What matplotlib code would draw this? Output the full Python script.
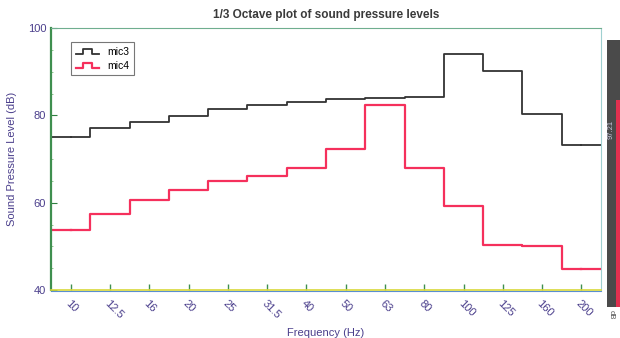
import matplotlib
matplotlib.use('Agg')
import matplotlib.pyplot as plt
from matplotlib.lines import Line2D
from matplotlib.legend_handler import HandlerLine2D
from matplotlib.ticker import MultipleLocator

# Datos (bandas de tercio de octava)
bands = ['10', '12.5', '16', '20', '25', '31.5', '40', '50', '63', '80', '100', '125', '160', '200']
mic3 = [75.1, 77.1, 78.5, 79.9, 81.5, 82.3, 83.0, 83.8, 84.0, 84.1, 94.0, 90.2, 80.4, 73.2]
mic4 = [53.8, 57.5, 60.6, 62.9, 65.0, 66.0, 68.0, 72.4, 82.4, 68.0, 59.3, 50.3, 50.0, 44.9]
level_value = 97.21

label_color = '#4b3f8c'
color_mic3 = '#333333'
color_mic4 = '#f5305c'

plt.rcParams['font.family'] = ['Liberation Sans', 'DejaVu Sans']


class StepHandler(HandlerLine2D):
    # icono de la leyenda en forma de escalon
    def create_artists(self, legend, orig_handle, xdescent, ydescent,
                       width, height, fontsize, trans):
        w, h = width, height
        xs = [0, 0.3 * w, 0.3 * w, 0.7 * w, 0.7 * w, w]
        ys = [0.15 * h, 0.15 * h, 0.85 * h, 0.85 * h, 0.15 * h, 0.15 * h]
        line = Line2D(xs, ys, color=orig_handle.get_color(),
                      linewidth=orig_handle.get_linewidth())
        line.set_transform(trans)
        return [line]


fig = plt.figure(figsize=(6.2, 3.38), dpi=100)
ax = fig.add_axes([51 / 620, 1 - 290 / 338, 550 / 620, 262 / 338])

x = list(range(len(bands)))
l3, = ax.step(x, mic3, where='mid', color=color_mic3, linewidth=1.3, label='mic3')
l4, = ax.step(x, mic4, where='mid', color=color_mic4, linewidth=1.6, label='mic4')
# extender el primer y ultimo escalon hasta los bordes
ax.plot([-0.5, 0], [mic3[0], mic3[0]], color=color_mic3, linewidth=1.3)
ax.plot([len(bands) - 1, len(bands) - 0.5], [mic3[-1], mic3[-1]], color=color_mic3, linewidth=1.3)
ax.plot([-0.5, 0], [mic4[0], mic4[0]], color=color_mic4, linewidth=1.6)
ax.plot([len(bands) - 1, len(bands) - 0.5], [mic4[-1], mic4[-1]], color=color_mic4, linewidth=1.6)

ax.set_xlim(-0.5, len(bands) - 0.5)
ax.set_ylim(40, 100)
ax.set_xticks(x)
ax.set_xticklabels(bands, rotation=-45, ha='left', rotation_mode='anchor',
                   fontsize=8, color=label_color)
ax.set_yticks([40, 60, 80, 100])
ax.yaxis.set_minor_locator(MultipleLocator(5))
ax.tick_params(axis='y', labelsize=8, labelcolor=label_color, direction='in',
               length=4, color='#2f7f3f')
ax.tick_params(axis='y', which='minor', direction='in', length=1.5, color='#7fbf7f')
ax.tick_params(axis='x', direction='in', length=4, width=1, color='#3f8f4f', pad=6)

ax.spines['left'].set_color('#3f8f4f')
ax.spines['left'].set_linewidth(1.6)
ax.spines['bottom'].set_color('#d8d83a')
ax.spines['bottom'].set_linewidth(1.2)
ax.spines['top'].set_color('#6fae8f')
ax.spines['top'].set_linestyle((0, (1, 1)))
ax.spines['right'].set_color('#9fd0d0')
ax.spines['right'].set_linewidth(0.8)
# linea azul bajo el eje x, como en la imagen escaneada
ax.plot([-0.5, len(bands) - 0.5], [39.7, 39.7], color='#5a8fd0', linewidth=0.8, clip_on=False)

ax.set_title('1/3 Octave plot of sound pressure levels', fontsize=8.5,
             fontweight='bold', color='#3a3a3a', pad=7)
ax.set_xlabel('Frequency (Hz)', fontsize=8, color=label_color, labelpad=5)
ax.set_ylabel('Sound Pressure Level (dB)', fontsize=8, color=label_color, labelpad=8)

leg = ax.legend(handles=[l3, l4], loc='upper left', fontsize=7.5,
                handler_map={Line2D: StepHandler()}, frameon=True, fancybox=False,
                handlelength=2.2, borderpad=0.45, labelspacing=0.35,
                bbox_to_anchor=(0.027, 0.965))
leg.get_frame().set_edgecolor('#555555')
leg.get_frame().set_linewidth(0.8)

# Barra del medidor de nivel a la derecha
bar_ax = fig.add_axes([607 / 620, 1 - 307 / 338, 13 / 620, 267 / 338])
bar_ax.set_xlim(0, 1)
bar_ax.set_ylim(40, 100)
bar_ax.bar(0.35, 60, bottom=40, width=0.7, color='#4a4a4a')
bar_ax.bar(0.85, 86.5 - 40, bottom=40, width=0.3, color='#e0304f')
bar_ax.bar(0.85, 100 - 86.5, bottom=86.5, width=0.3, color='#4a4a4a')
bar_ax.text(0.35, 80, f'{level_value:.2f}', rotation=90, ha='center', va='center',
            fontsize=5.5, color='#c8c8e0')
bar_ax.axis('off')
fig.text(611 / 620, 1 - 315 / 338, 'dB', rotation=-90, ha='center', va='center',
         fontsize=5.5, color='#555555')

plt.savefig('out.png', dpi=100)
